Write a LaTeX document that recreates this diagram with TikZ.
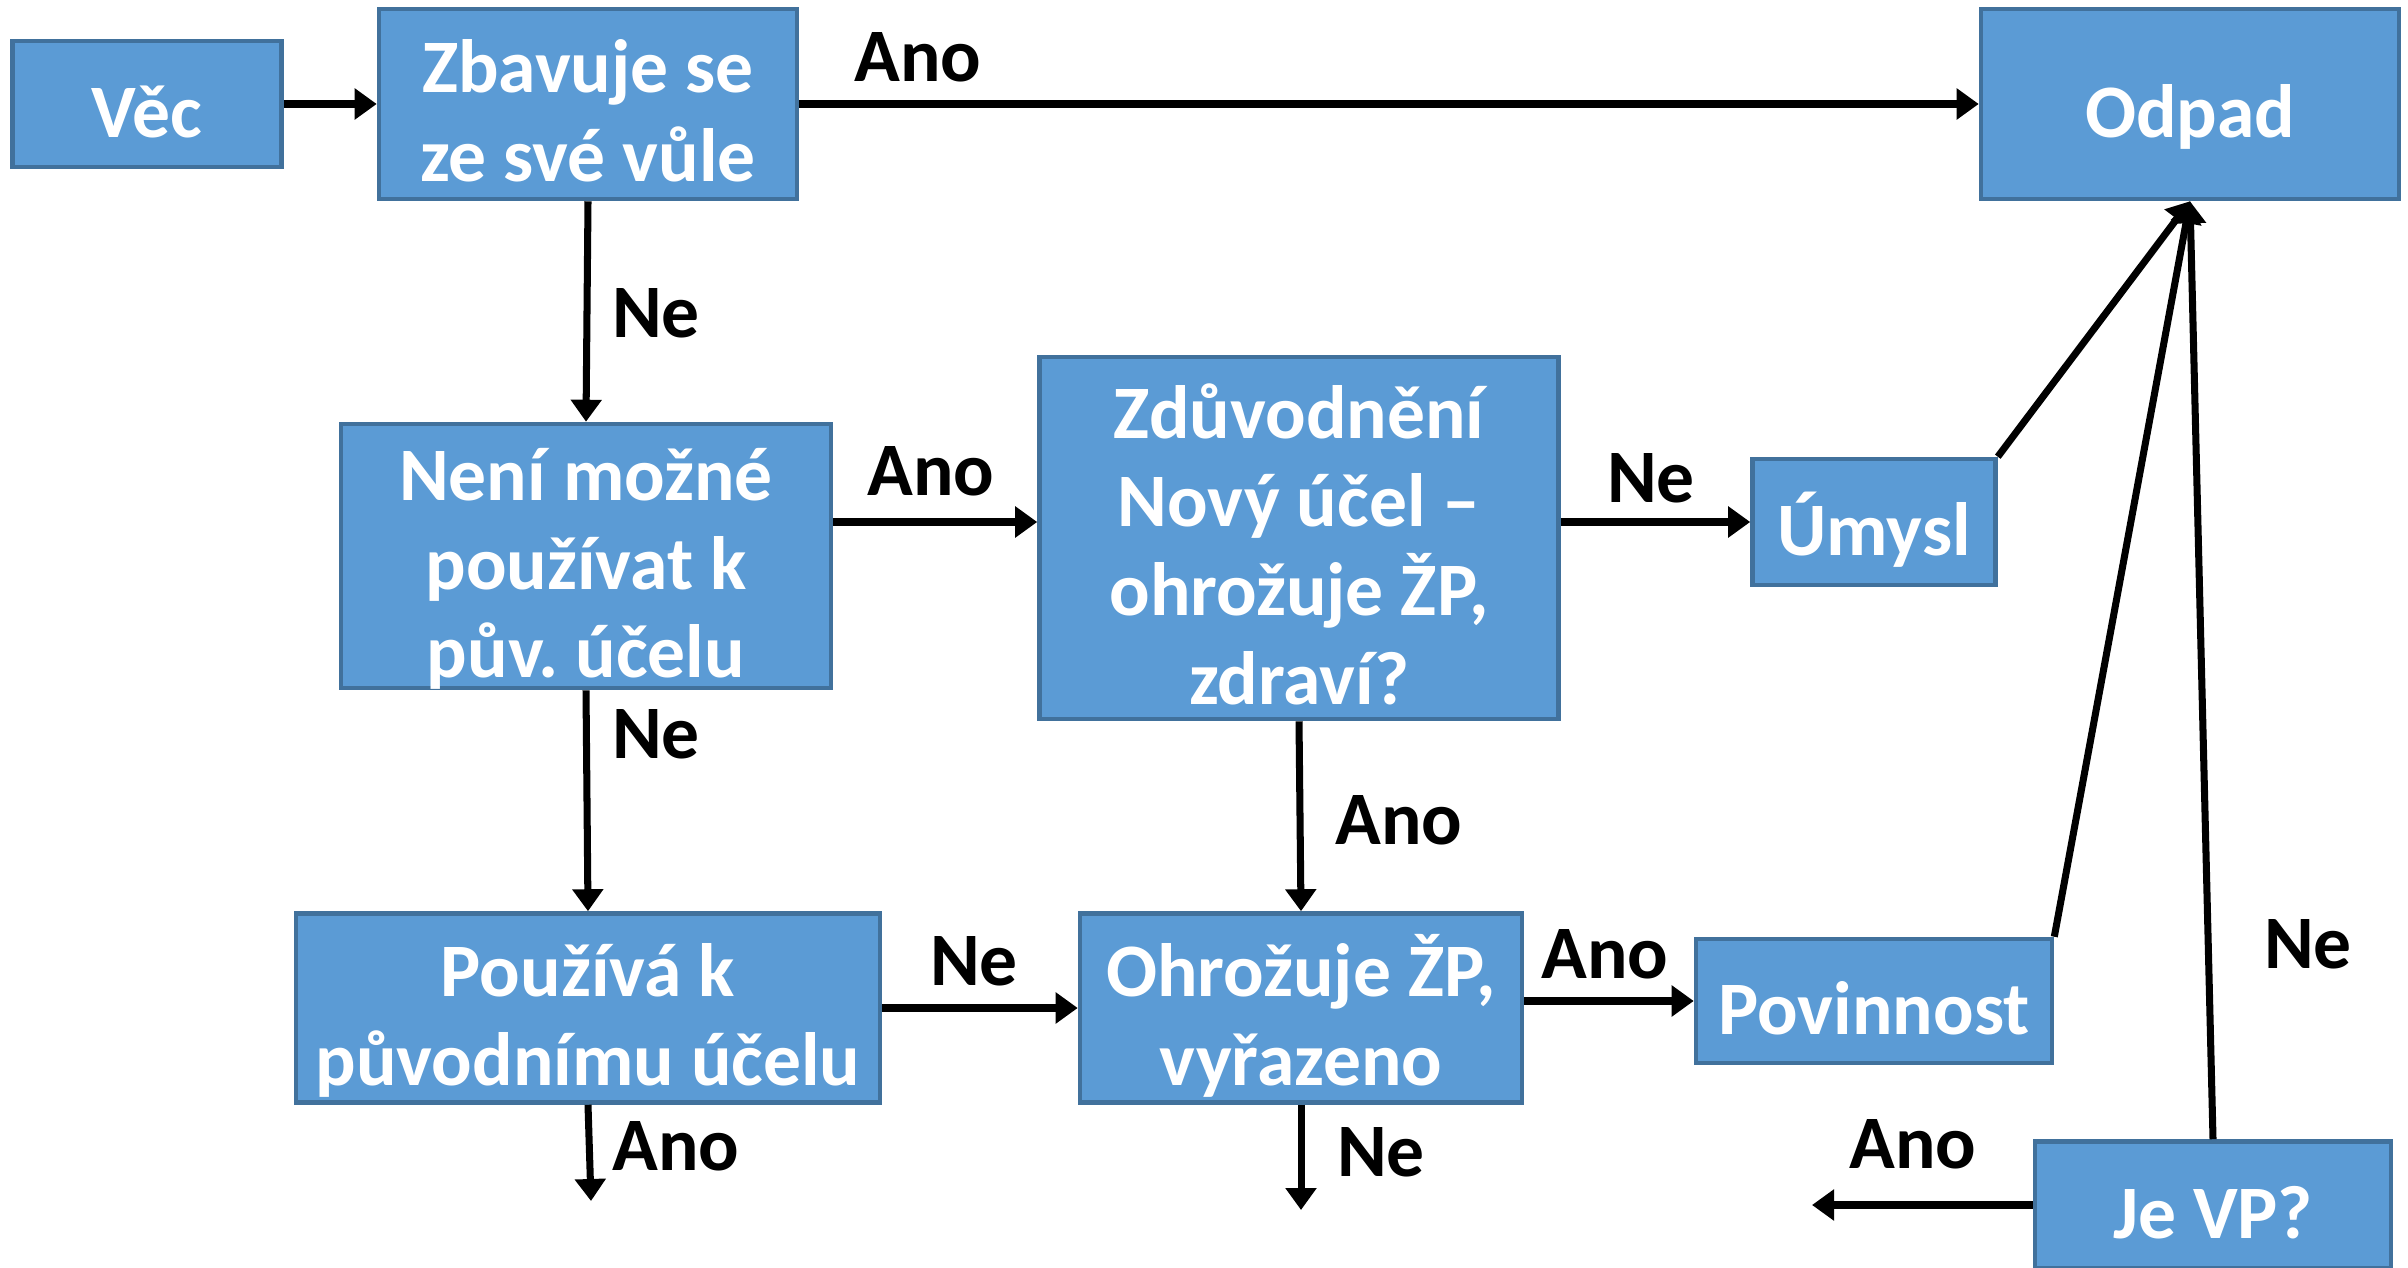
\documentclass[tikz,border=0pt]{standalone}
\usepackage{fontspec}
\setmainfont{Carlito}
\usepackage{xcolor}
\usepackage{tikz}
\usetikzlibrary{shapes,arrows.meta,positioning,calc}
\definecolor{boxblue}{HTML}{5B9BD5}
\definecolor{boxedge}{HTML}{41719C}
\frenchspacing

\begin{document}
\begin{tikzpicture}[
    box/.style={rectangle, draw=boxedge, fill=boxblue, text=white, align=flush center,
                inner xsep=0pt, inner ysep=-0.5cm, line width=1.3pt,
                font=\fontsize{21.5}{25.2}\selectfont\bfseries,
                execute at begin node={\rule{0pt}{1.13em}},
                execute at end node={\rule[-0.25em]{0pt}{0pt}}},
    boxw/.style={minimum width=#1, text width=#1},
    lbl/.style={text=black, inner sep=0pt, font=\fontsize{21.5}{25.2}\selectfont\bfseries},
    arr/.style={-{Triangle[length=0.22cm, width=0.3cm]}, line width=2pt, color=black}
]
    \useasboundingbox (0,0) rectangle (24.08,-12.68);

    % Boxes, top row
    \node[box, boxw=2.69cm, minimum height=1.26cm] (vec) at (1.47,-1.04) {Věc};
    \node[box, boxw=4.18cm, minimum height=1.90cm] (zbav) at (5.88,-1.04) {Zbavuje se\\ze své vůle};
    \node[box, boxw=4.18cm, minimum height=1.90cm] (odpad) at (21.90,-1.04) {Odpad};

    % Boxes, middle row
    \node[box, boxw=4.90cm, minimum height=2.64cm] (neni) at (5.86,-5.56) {Není možné\\používat k\\pův. účelu};
    \node[box, boxw=5.19cm, minimum height=3.62cm] (zduv) at (12.99,-5.38) {Zdůvodnění\\Nový účel –\\ohrožuje ŽP,\\zdraví?};
    \node[box, boxw=2.43cm, minimum height=1.26cm] (umysl) at (18.74,-5.22) {Úmysl};

    % Boxes, bottom row
    \node[box, boxw=5.84cm, minimum height=1.89cm] (pouz) at (5.88,-10.08) {Používá k\\původnímu účelu};
    \node[box, boxw=4.42cm, minimum height=1.89cm] (ohroz) at (13.01,-10.08) {Ohrožuje ŽP,\\vyřazeno};
    \node[box, boxw=3.56cm, minimum height=1.24cm] (povin) at (18.74,-10.01) {Povinnost};
    \node[box, boxw=3.56cm, minimum height=1.27cm] (jevp) at (22.13,-12.05) {Je VP?};

    % Free ends
    \coordinate (pouzend) at (5.91,-12.01);
    \coordinate (ohrozend) at (13.01,-12.10);
    \coordinate (jevpend) at (18.12,-12.05);

    % Connections
    \draw[arr] (vec) -- (zbav);
    \draw[arr] (zbav) -- (odpad);
    \draw[arr] (zbav.south) -- (neni.north);
    \draw[arr] (neni.east |- umysl) -- (zduv.west |- umysl);
    \draw[arr] (zduv.east |- umysl) -- (umysl);
    \draw[arr] (neni.south) -- (pouz.north);
    \draw[arr] (zduv.south) -- (ohroz.north);
    \draw[arr] (pouz) -- (ohroz);
    \draw[arr] (ohroz.east |- povin) -- (povin);
    \draw[arr] (umysl.north east) -- (odpad.south);
    \draw[arr] (povin.north east) -- (odpad.south);
    \draw[arr] (jevp.north) -- (odpad.south);
    \draw[arr] (pouz.south) -- (pouzend);
    \draw[arr] (ohroz.south) -- (ohrozend);
    \draw[arr] (jevp.west) -- (jevpend);

    % Labels
    \node[lbl] (l1) at (9.18,-0.57) {Ano};
    \node[lbl] (l2) at (6.56,-3.13) {Ne};
    \node[lbl] (l3) at (9.31,-4.71) {Ano};
    \node[lbl] (l4) at (6.56,-7.34) {Ne};
    \node[lbl] (l5) at (16.51,-4.78) {Ne};
    \node[lbl] (l6) at (13.99,-8.20) {Ano};
    \node[lbl] (l7) at (9.74,-9.61) {Ne};
    \node[lbl] (l8) at (16.05,-9.54) {Ano};
    \node[lbl] (l9) at (23.08,-9.44) {Ne};
    \node[lbl] (l10) at (6.76,-11.46) {Ano};
    \node[lbl] (l11) at (13.81,-11.52) {Ne};
    \node[lbl] (l12) at (19.13,-11.44) {Ano};
\end{tikzpicture}
\end{document}
